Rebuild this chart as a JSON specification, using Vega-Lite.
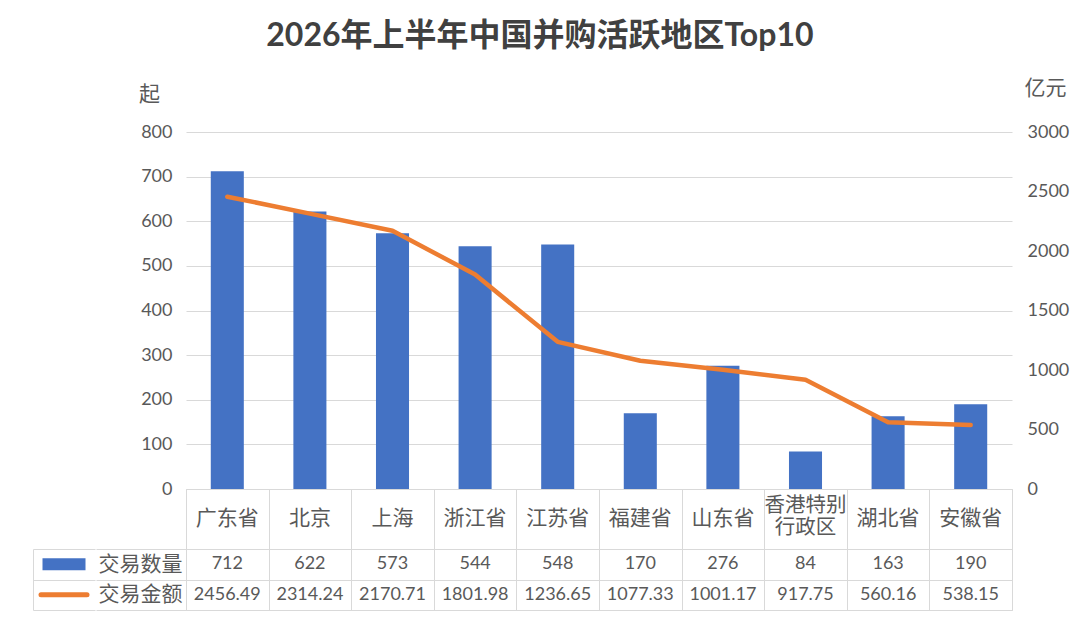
{
  "$schema": "https://vega.github.io/schema/vega-lite/v6.json",
  "background": "white",
  "padding": {"left": 31, "top": 20, "right": 10, "bottom": 10},
  "title": {
    "text": "2026年上半年中国并购活跃地区Top10",
    "anchor": "middle",
    "fontSize": 32,
    "fontWeight": "bold",
    "color": "#404040",
    "offset": 24,
    "dx": -10
  },
  "config": {
    "font": "Lato, Noto Sans CJK SC",
    "view": {"stroke": null}
  },
  "datasets": {
    "regions": [
      {"地区": "广东省", "交易数量": 712, "交易金额": 2456.49},
      {"地区": "北京", "交易数量": 622, "交易金额": 2314.24},
      {"地区": "上海", "交易数量": 573, "交易金额": 2170.71},
      {"地区": "浙江省", "交易数量": 544, "交易金额": 1801.98},
      {"地区": "江苏省", "交易数量": 548, "交易金额": 1236.65},
      {"地区": "福建省", "交易数量": 170, "交易金额": 1077.33},
      {"地区": "山东省", "交易数量": 276, "交易金额": 1001.17},
      {"地区": "香港特别\n行政区", "交易数量": 84, "交易金额": 917.75},
      {"地区": "湖北省", "交易数量": 163, "交易金额": 560.16},
      {"地区": "安徽省", "交易数量": 190, "交易金额": 538.15}
    ],
    "series": [
      {"指标": "交易数量"},
      {"指标": "交易金额"}
    ]
  },
  "spacing": -2,
  "hconcat": [
    {
      "vconcat": [
        {"width": 62, "height": 357, "data": {"values": []}, "mark": "point"},
        {"width": 62, "height": 60, "data": {"values": []}, "mark": "point"},
        {
          "width": 62,
          "height": 61,
          "data": {"name": "series"},
          "encoding": {
            "y": {
              "field": "指标", "type": "nominal", "sort": null,
              "scale": {"domain": ["交易数量", "交易金额"], "paddingInner": 0, "paddingOuter": 0},
              "axis": {"title": null, "labels": false, "ticks": false, "domain": true, "domainColor": "#d9d9d9", "grid": true, "gridColor": "#d9d9d9", "tickBand": "extent"}
            }
          },
          "layer": [
            {
              "transform": [{"filter": "datum['指标'] === '交易数量'"}],
              "mark": {"type": "point", "shape": "M-1,-0.28H1V0.28H-1Z", "size": 1849, "filled": true, "color": "#4472C4", "opacity": 1}
            },
            {
              "transform": [{"filter": "datum['指标'] === '交易金额'"}],
              "mark": {"type": "point", "shape": "M-1,0H1", "size": 2116, "filled": false, "color": "#ED7D31", "strokeWidth": 5, "strokeCap": "round", "opacity": 1}
            }
          ]
        }
      ],
      "spacing": 0,
      "bounds": "flush"
    },
    {
      "vconcat": [
        {
          "width": 826,
          "height": 357,
          "data": {"name": "regions"},
          "encoding": {
            "x": {
              "field": "地区", "type": "nominal", "sort": null,
              "scale": {"paddingInner": 0.6, "paddingOuter": 0.3},
              "axis": null
            }
          },
          "layer": [
            {
              "mark": {"type": "bar", "color": "#4472C4"},
              "encoding": {
                "y": {
                  "field": "交易数量", "type": "quantitative",
                  "scale": {"domain": [0, 800]},
                  "axis": {
                    "orient": "left",
                    "values": [0, 100, 200, 300, 400, 500, 600, 700, 800],
                    "grid": true, "gridColor": "#d9d9d9", "gridWidth": 1,
                    "domain": false, "ticks": false,
                    "labelFontSize": 18, "labelColor": "#595959", "labelPadding": 14,
                    "title": "起", "titleAngle": 0, "titleFontSize": 21,
                    "titleFontWeight": "normal", "titleColor": "#595959",
                    "titleX": -37, "titleY": -38,
                    "titleAlign": "center", "titleBaseline": "middle"
                  }
                }
              }
            },
            {
              "mark": {"type": "line", "color": "#ED7D31", "strokeWidth": 4.5, "strokeJoin": "round", "strokeCap": "round"},
              "encoding": {
                "y": {
                  "field": "交易金额", "type": "quantitative",
                  "scale": {"domain": [0, 3000]},
                  "axis": {
                    "orient": "right",
                    "values": [0, 500, 1000, 1500, 2000, 2500, 3000],
                    "format": "d",
                    "grid": false, "domain": false, "ticks": false,
                    "labelFontSize": 18, "labelColor": "#595959", "labelPadding": 15,
                    "title": "亿元", "titleAngle": 0, "titleFontSize": 21,
                    "titleFontWeight": "normal", "titleColor": "#595959",
                    "titleX": 33, "titleY": -44,
                    "titleAlign": "center", "titleBaseline": "middle"
                  }
                }
              }
            }
          ],
          "resolve": {"scale": {"y": "independent"}}
        },
        {
          "width": 826,
          "height": 60,
          "data": {"name": "regions"},
          "view": {"stroke": "#d9d9d9"},
          "encoding": {
            "x": {
              "field": "地区", "type": "nominal", "sort": null,
              "scale": {
                "domain": ["广东省", "北京", "上海", "浙江省", "江苏省", "福建省", "山东省", "香港特别\n行政区", "湖北省", "安徽省"],
                "paddingInner": 0, "paddingOuter": 0
              },
              "axis": {"title": null, "labels": false, "ticks": false, "domain": false, "grid": true, "tickBand": "extent", "gridColor": "#d9d9d9"}
            },
            "text": {"field": "地区", "type": "nominal"}
          },
          "layer": [
            {
              "transform": [{"filter": "indexof(datum['地区'], '\\n') < 0"}],
              "mark": {"type": "text", "fontSize": 21, "color": "#595959"}
            },
            {
              "transform": [{"filter": "indexof(datum['地区'], '\\n') >= 0"}],
              "mark": {"type": "text", "fontSize": 20.5, "color": "#595959", "lineBreak": "\n", "lineHeight": 22, "dy": -13}
            }
          ]
        },
        {
          "width": 826,
          "height": 61,
          "data": {"name": "regions"},
          "view": {"stroke": "#d9d9d9"},
          "transform": [{"fold": ["交易数量", "交易金额"], "as": ["指标", "数值"]}],
          "mark": {"type": "text", "fontSize": 18, "color": "#595959"},
          "encoding": {
            "x": {
              "field": "地区", "type": "nominal", "sort": null,
              "scale": {"paddingInner": 0, "paddingOuter": 0},
              "axis": {"title": null, "labels": false, "ticks": false, "domain": false, "grid": true, "tickBand": "extent", "gridColor": "#d9d9d9"}
            },
            "y": {
              "field": "指标", "type": "nominal", "sort": null,
              "scale": {"domain": ["交易数量", "交易金额"], "paddingInner": 0, "paddingOuter": 0},
              "axis": {
                "title": null, "labelFontSize": 21, "labelColor": "#595959",
                "ticks": true, "tickSize": 90, "tickColor": "#d9d9d9", "tickBand": "extent",
                "labelPadding": -86, "domain": false, "grid": true, "gridColor": "#d9d9d9"
              }
            },
            "text": {"field": "数值", "type": "nominal"}
          }
        }
      ],
      "spacing": 0,
      "bounds": "flush"
    }
  ]
}
